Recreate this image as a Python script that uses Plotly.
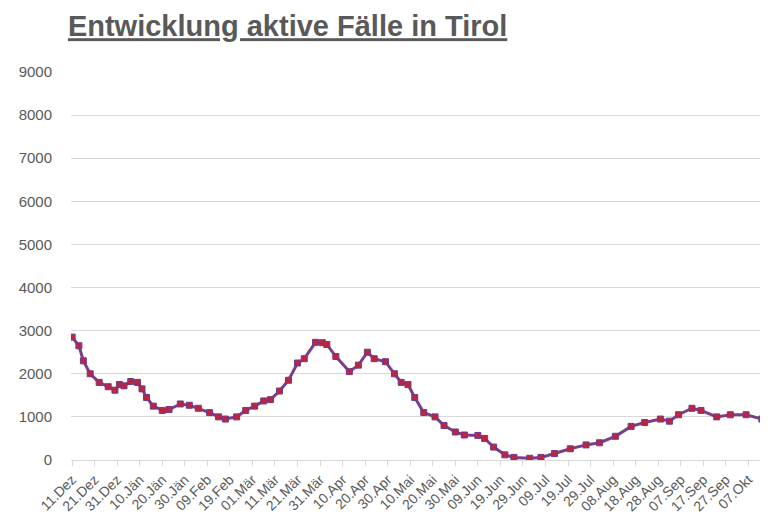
import plotly.graph_objects as go
import pandas as pd

dates = ["2020-12-11","2020-12-14","2020-12-16","2020-12-19","2020-12-23","2020-12-27","2020-12-30",
"2021-01-01","2021-01-03","2021-01-06","2021-01-09","2021-01-11","2021-01-13","2021-01-16","2021-01-20",
"2021-01-23","2021-01-28","2021-02-01","2021-02-05","2021-02-10","2021-02-14","2021-02-17","2021-02-22",
"2021-02-26","2021-03-02","2021-03-06","2021-03-09","2021-03-13","2021-03-17","2021-03-21","2021-03-24",
"2021-03-29","2021-04-01","2021-04-03","2021-04-07","2021-04-13","2021-04-17","2021-04-21","2021-04-24",
"2021-04-29","2021-05-03","2021-05-06","2021-05-09","2021-05-12","2021-05-16","2021-05-21","2021-05-25",
"2021-05-30","2021-06-03","2021-06-09","2021-06-12","2021-06-16","2021-06-21","2021-06-25","2021-07-02",
"2021-07-07","2021-07-13","2021-07-20","2021-07-27","2021-08-02","2021-08-09","2021-08-16","2021-08-22",
"2021-08-29","2021-09-02","2021-09-06","2021-09-12","2021-09-16","2021-09-23","2021-09-29","2021-10-06",
"2021-10-13","2021-10-17"]
values = [2850,2650,2300,2000,1800,1700,1620,1750,1720,1820,1800,1650,1450,1250,1150,1170,1300,1270,1200,
1100,1000,950,1000,1150,1250,1370,1400,1600,1850,2250,2350,2730,2720,2680,2400,2050,2200,2500,2350,2280,
2000,1800,1750,1450,1100,1000,800,650,580,570,500,300,120,60,40,60,150,260,350,400,550,780,870,950,900,
1050,1200,1150,1000,1050,1050,950,1200]
tick_labels = ["11.Dez","21.Dez","31.Dez","10.Jän","20.Jän","30.Jän","09.Feb","19.Feb","01.Mär","11.Mär",
"21.Mär","31.Mär","10.Apr","20.Apr","30.Apr","10.Mai","20.Mai","30.Mai","09.Jun","19.Jun","29.Jun",
"09.Jul","19.Jul","29.Jul","08.Aug","18.Aug","28.Aug","07.Sep","17.Sep","27.Sep","07.Okt","17.Okt"]
tick_dates = pd.date_range("2020-12-11", periods=len(tick_labels), freq="10D")

fig = go.Figure(go.Scatter(
    x=dates, y=values, mode="lines+markers",
    line=dict(color="#7a3f8a", width=3),
    marker=dict(symbol="square", size=6, color="#c0243c", line=dict(color="#6a3d8f", width=1)),
    showlegend=False))

fig.update_layout(
    width=768, height=528, plot_bgcolor="white", paper_bgcolor="white",
    margin=dict(l=63, r=4, t=64, b=76),
    font=dict(family="Liberation Sans, Arial", color="#595959"),
    title=dict(text="<b><u>Entwicklung aktive Fälle in Tirol</u></b>", x=0.078, xanchor="left",
               y=0.985, yanchor="top", font=dict(size=29, color="#595959")),
)
fig.update_xaxes(range=["2020-12-10 12:00", "2021-10-17 12:00"], tickvals=tick_dates, ticktext=tick_labels,
                 tickangle=-45, tickfont=dict(size=14, color="#595959"), showgrid=False,
                 showline=True, linecolor="#d9d9d9", ticks="outside", tickcolor="#d9d9d9", ticklen=5)
fig.update_yaxes(range=[0, 9000], dtick=1000, tickfont=dict(size=15, color="#595959"),
                 gridcolor="#d9d9d9", zeroline=False, ticks="", ticklabelstandoff=18)
fig.write_html("out.html")
